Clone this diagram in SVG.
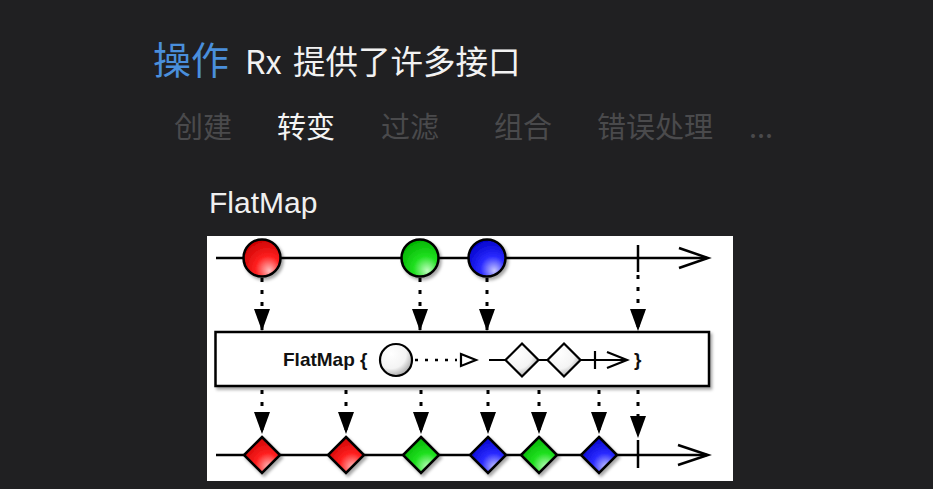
<svg xmlns="http://www.w3.org/2000/svg" width="933" height="489" viewBox="0 0 933 489">
<style>
.cjk{font-family:"Noto Sans CJK SC","Liberation Sans",sans-serif}
.tab{font-size:29px;fill:#4a4a4c}
.ln{stroke:#000;stroke-width:2.5;fill:none}
.dot{stroke:#000;stroke-width:3;fill:none;stroke-dasharray:4 8}
.mk{stroke:#000;stroke-width:2.5}
</style>
<defs>
<filter id="sh" x="-30%" y="-30%" width="160%" height="160%">
<feDropShadow dx="2" dy="2.5" stdDeviation="1.5" flood-color="#000" flood-opacity="0.35"/>
</filter>
<radialGradient id="gR" cx="0.62" cy="0.72" r="0.75" fx="0.7" fy="0.85">
<stop offset="0" stop-color="#ffc0c0"/><stop offset="0.45" stop-color="#ff2020"/><stop offset="1" stop-color="#c80000"/>
</radialGradient>
<radialGradient id="gG" cx="0.62" cy="0.72" r="0.75" fx="0.7" fy="0.85">
<stop offset="0" stop-color="#c0ffc0"/><stop offset="0.45" stop-color="#20e020"/><stop offset="1" stop-color="#00b000"/>
</radialGradient>
<radialGradient id="gB" cx="0.62" cy="0.72" r="0.75" fx="0.7" fy="0.85">
<stop offset="0" stop-color="#c8c8ff"/><stop offset="0.45" stop-color="#2a2aff"/><stop offset="1" stop-color="#0000c8"/>
</radialGradient>
<radialGradient id="gW" cx="0.35" cy="0.3" r="0.85">
<stop offset="0" stop-color="#ffffff"/><stop offset="0.55" stop-color="#f4f4f4"/><stop offset="1" stop-color="#8a8a8a"/>
</radialGradient>
<marker id="ah" markerUnits="userSpaceOnUse" markerWidth="22" markerHeight="16" refX="22" refY="8" orient="auto" viewBox="0 0 22 16">
<polygon points="0,0 22,8 0,16" fill="#000"/>
</marker>
</defs>
<rect width="933" height="489" fill="#202022"/>

<g id="title">
<text class="cjk" x="153" y="74" font-size="38" fill="#4a8fdc">操作</text>
<text class="cjk" y="74" font-size="32.5" fill="#f2f2f2"><tspan x="245">Rx</tspan><tspan x="293">提供了许多接口</tspan></text>
</g>
<g id="tabs" class="cjk">
<text class="tab" x="174" y="138">创建</text>
<text x="277" y="138" font-size="29" fill="#f4f4f4">转变</text>
<text class="tab" x="381" y="138">过滤</text>
<text class="tab" x="494" y="138">组合</text>
<text class="tab" x="597" y="138">错误处理</text>
<text class="tab" x="749" y="138">...</text>
</g>
<text id="label" x="209" y="213" font-family="Liberation Sans, sans-serif" font-size="30" fill="#f0f0f0">FlatMap</text>

<rect id="panel" x="207" y="236" width="526" height="245" fill="#ffffff"/>

<g id="connectors">
<line class="ln" x1="216" y1="258" x2="707" y2="258"/>
<polyline class="ln" points="679,248 708,258 679,268"/>
<line class="ln" x1="216" y1="455" x2="707" y2="455"/>
<polyline class="ln" points="678,445 708,455 678,465"/>
<line class="dot" x1="262" y1="278" x2="262" y2="331" marker-end="url(#ah)"/>
<line class="dot" x1="420" y1="278" x2="420" y2="331" marker-end="url(#ah)"/>
<line class="dot" x1="487" y1="278" x2="487" y2="331" marker-end="url(#ah)"/>
<line class="dot" x1="638" y1="275" x2="638" y2="331" marker-end="url(#ah)"/>
<line class="dot" x1="262" y1="390" x2="262" y2="434" marker-end="url(#ah)"/>
<line class="dot" x1="346" y1="390" x2="346" y2="434" marker-end="url(#ah)"/>
<line class="dot" x1="421" y1="390" x2="421" y2="434" marker-end="url(#ah)"/>
<line class="dot" x1="488" y1="390" x2="488" y2="434" marker-end="url(#ah)"/>
<line class="dot" x1="539" y1="390" x2="539" y2="434" marker-end="url(#ah)"/>
<line class="dot" x1="599" y1="390" x2="599" y2="434" marker-end="url(#ah)"/>
<line class="dot" x1="638" y1="390" x2="638" y2="438" marker-end="url(#ah)"/>
</g>

<g id="tick-top"><line class="mk" x1="638" y1="245" x2="638" y2="272"/></g>
<g id="tick-bottom"><line class="mk" x1="638" y1="440" x2="638" y2="468"/></g>

<g id="in-red"><circle cx="262" cy="258" r="18.5" fill="url(#gR)" class="mk" filter="url(#sh)"/></g>
<g id="in-green"><circle cx="420" cy="258" r="18.5" fill="url(#gG)" class="mk" filter="url(#sh)"/></g>
<g id="in-blue"><circle cx="487" cy="258" r="18.5" fill="url(#gB)" class="mk" filter="url(#sh)"/></g>

<g id="flatmap-box">
<rect x="215.5" y="332" width="493.5" height="54" fill="#fff" class="mk" filter="url(#sh)"/>
<text x="283" y="366" font-family="Liberation Sans, sans-serif" font-weight="bold" font-size="19" fill="#111">FlatMap {</text>
<circle cx="396" cy="360" r="16" fill="url(#gW)" stroke="#000" stroke-width="2.2"/>
<line x1="413" y1="360" x2="457" y2="360" stroke="#000" stroke-width="2.5" stroke-dasharray="3 7" stroke-dashoffset="-2"/>
<polygon points="461,354 476,360 461,366" fill="#fff" stroke="#000" stroke-width="2.2"/>
<line x1="489" y1="360" x2="626" y2="360" stroke="#000" stroke-width="2.2"/>
<polygon points="522,343.5 538.5,360 522,376.5 505.5,360" fill="url(#gW)" stroke="#000" stroke-width="2.2"/>
<polygon points="564,343.5 580.5,360 564,376.5 547.5,360" fill="url(#gW)" stroke="#000" stroke-width="2.2"/>
<line x1="595" y1="351" x2="595" y2="369" stroke="#000" stroke-width="2.2"/>
<polyline points="607,352 627,360 607,368" fill="none" stroke="#000" stroke-width="2.2"/>
<text x="634" y="366" font-family="Liberation Sans, sans-serif" font-weight="bold" font-size="19" fill="#111">}</text>
</g>

<g id="out-red-1"><polygon points="262,437 280,455 262,473 244,455" fill="url(#gR)" class="mk" filter="url(#sh)"/></g>
<g id="out-red-2"><polygon points="346,437 364,455 346,473 328,455" fill="url(#gR)" class="mk" filter="url(#sh)"/></g>
<g id="out-green-1"><polygon points="421,437 439,455 421,473 403,455" fill="url(#gG)" class="mk" filter="url(#sh)"/></g>
<g id="out-blue-1"><polygon points="488,437 506,455 488,473 470,455" fill="url(#gB)" class="mk" filter="url(#sh)"/></g>
<g id="out-green-2"><polygon points="539,437 557,455 539,473 521,455" fill="url(#gG)" class="mk" filter="url(#sh)"/></g>
<g id="out-blue-2"><polygon points="599,437 617,455 599,473 581,455" fill="url(#gB)" class="mk" filter="url(#sh)"/></g>
</svg>
